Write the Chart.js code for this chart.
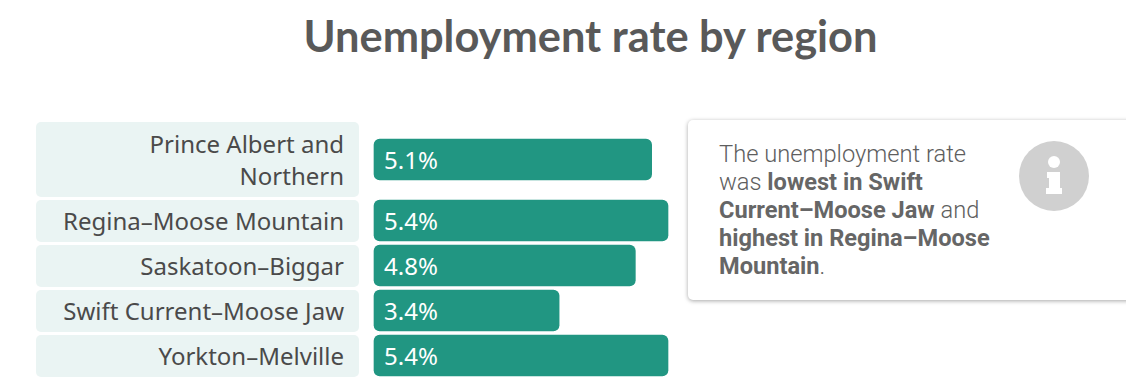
<!DOCTYPE html>
<html>
<head>
<meta charset="utf-8">
<title>Unemployment rate by region</title>
<script src="https://cdn.jsdelivr.net/npm/chart.js@4"></script>
<style>
  html, body { margin: 0; padding: 0; background: #fff; overflow: hidden; }
  body { width: 1126px; height: 390px; position: relative; }
  h1 { position: absolute; left: 0; top: 9px; width: 1181px; margin: 0; text-align: center;
       font: 700 43.4px/52px Lato, sans-serif; color: #595959; }
  .chart-wrap { position: absolute; left: 0; top: 110px; width: 680px; height: 280px; }
  .note { position: absolute; left: 688px; top: 120px; width: 460px; height: 180px; box-sizing: border-box;
          background: #fff; border-radius: 5px; box-shadow: 0 1px 4px rgba(0,0,0,0.35); }
  .note p { position: absolute; left: 31px; top: 20px; width: 285px; margin: 0;
            font: 300 23.7px/28px Roboto, sans-serif; color: #5e5e5e; }
  .note b { font-weight: 700; font-size: 23.6px; color: #666; }
  .note svg { position: absolute; left: 331px; top: 21px; width: 70px; height: 70px; }
</style>
</head>
<body>
<h1>Unemployment rate by region</h1>
<div class="chart-wrap"><canvas id="regionChart"></canvas></div>
<div class="note">
  <p>The unemployment rate was <b>lowest in Swift Current–Moose Jaw</b> and <b>highest in Regina–Moose Mountain</b>.</p>
  <svg viewBox="0 0 70 70">
    <circle cx="35" cy="35" r="35" fill="#d0d0d0"/>
    <circle cx="35" cy="21" r="6" fill="#fff"/>
    <path d="M28 31 H41 V47 H43 V53 H27 V47 H30 V37 H28 Z" fill="#fff"/>
  </svg>
</div>
<script>
var regions = [['Prince Albert and', 'Northern'], 'Regina–Moose Mountain', 'Saskatoon–Biggar', 'Swift Current–Moose Jaw', 'Yorkton–Melville'];
var rates = [5.1, 5.4, 4.8, 3.4, 5.4];
var rateLabels = ['5.1%', '5.4%', '4.8%', '3.4%', '5.4%'];

var TOP = 12, ONE_LINE = 42, TWO_LINE = 75, GAP = 3;

// rows are as tall as their label, so the category axis can't space them evenly
function rowBox(i) {
  var y = TOP;
  for (var r = 0; r < i; r++) y += rowHeight(r) + GAP;
  return { top: y, height: rowHeight(i) };
}
function rowHeight(i) {
  return Array.isArray(regions[i]) ? TWO_LINE : ONE_LINE;
}

class RowScale extends Chart.CategoryScale {
  getPixelForValue(value) {
    if (typeof value !== 'number') value = this.parse(value);
    var b = rowBox(value);
    return b.top + Math.ceil(b.height / 2) - 0.5;
  }
}
RowScale.id = 'rows';
RowScale.defaults = Chart.CategoryScale.defaults;
Chart.register(RowScale);

// white page and pale boxes behind the region names, has to run before the axis draws
var rowBoxes = {
  id: 'rowBoxes',
  beforeDraw: function (chart) {
    var ctx = chart.ctx;
    ctx.save();
    ctx.fillStyle = '#fff';
    ctx.fillRect(0, 0, chart.width, chart.height);
    ctx.fillStyle = '#eaf4f3';
    regions.forEach(function (r, i) {
      var b = rowBox(i);
      ctx.beginPath();
      ctx.roundRect(36, b.top, 323, b.height, 5);
      ctx.fill();
    });
    ctx.restore();
  }
};

// value text inside the bars
var valueLabels = {
  id: 'valueLabels',
  afterDatasetsDraw: function (chart) {
    var ctx = chart.ctx, meta = chart.getDatasetMeta(0);
    ctx.save();
    ctx.fillStyle = '#fff';
    ctx.font = '24px "Noto Sans", sans-serif';
    ctx.textAlign = 'left';
    ctx.textBaseline = 'middle';
    meta.data.forEach(function (bar, i) {
      ctx.fillText(rateLabels[i], chart.chartArea.left + 10, bar.y + 3);
    });
    ctx.restore();
  }
};

// opaque context so the canvas text gets the same antialiasing as the page text
var canvas = document.getElementById('regionChart');
canvas.getContext('2d', { alpha: false });

new Chart(canvas, {
  type: 'bar',
  data: {
    labels: regions,
    datasets: [{ data: rates, backgroundColor: '#219682', borderRadius: 6, borderSkipped: false, barThickness: 41, clip: false }]
  },
  options: {
    indexAxis: 'y',
    responsive: true, maintainAspectRatio: false,
    animation: false,
    layout: { padding: { right: 12, top: 0, bottom: 0 } },
    plugins: { legend: { display: false }, tooltip: { enabled: false } },
    scales: {
      x: { min: 0, max: 5.4, display: false },
      y: {
        type: 'rows',
        grid: { display: false, drawTicks: false },
        border: { display: false },
        ticks: { padding: 30, labelOffset: 3, autoSkip: false, color: '#4a4a4a', font: { family: '"Noto Sans", sans-serif', size: 24, lineHeight: 1.34 } },
        afterFit: function (scale) { scale.width = 374; }
      }
    }
  },
  plugins: [rowBoxes, valueLabels]
});
</script>
</body>
</html>
